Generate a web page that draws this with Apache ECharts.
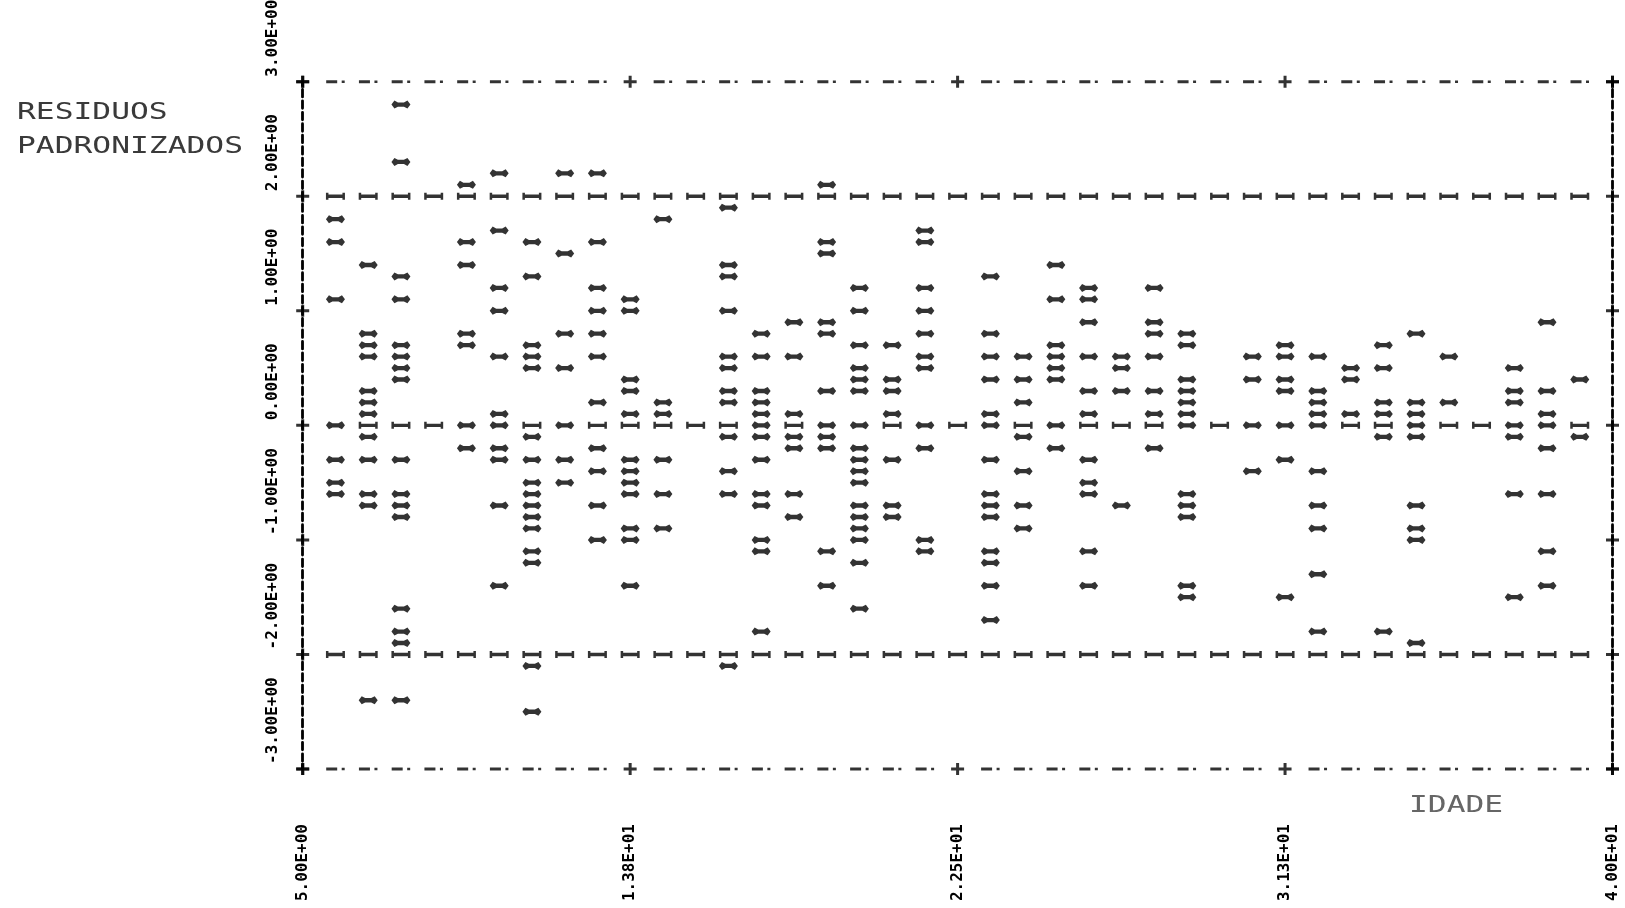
<!DOCTYPE html>
<html>
<head>
<meta charset="utf-8">
<script src="https://cdn.jsdelivr.net/npm/echarts@6/dist/echarts.min.js"></script>
<style>
html,body{margin:0;padding:0;background:#fff;}
#chart{width:1625px;height:908px;}
</style>
</head>
<body>
<div id="chart"></div>
<script>
// print columns of the age axis (IDADE)
const ageColumns = [5.875, 6.75, 7.625, 8.5, 9.375, 10.25, 11.125, 12, 12.875, 13.75,
  14.625, 15.5, 16.375, 17.25, 18.125, 19, 19.875, 20.75, 21.625, 22.5,
  23.375, 24.25, 25.125, 26, 26.875, 27.75, 28.625, 29.5, 30.375, 31.25,
  32.125, 33, 33.875, 34.75, 35.625, 36.5, 37.375, 38.25, 39.125];

// standardized residuals plotted in each column
const residuos = [
  [1.8, 1.6, 1.1, 0.0, -0.3, -0.5, -0.6],
  [1.4, 0.8, 0.7, 0.6, 0.3, 0.2, 0.1, -0.1, -0.3, -0.6, -0.7, -2.4],
  [2.8, 2.3, 1.3, 1.1, 0.7, 0.6, 0.5, 0.4, -0.3, -0.6, -0.7, -0.8, -1.6, -1.8, -1.9, -2.4],
  [],
  [2.1, 1.6, 1.4, 0.8, 0.7, 0.0, -0.2],
  [2.2, 1.7, 1.2, 1.0, 0.6, 0.1, 0.0, -0.2, -0.3, -0.7, -1.4],
  [1.6, 1.3, 0.7, 0.6, 0.5, -0.1, -0.3, -0.5, -0.6, -0.7, -0.8, -0.9, -1.1, -1.2, -2.1, -2.5],
  [2.2, 1.5, 0.8, 0.5, 0.0, -0.3, -0.5],
  [2.2, 1.6, 1.2, 1.0, 0.8, 0.6, 0.2, -0.2, -0.4, -0.7, -1.0],
  [1.1, 1.0, 0.4, 0.3, 0.1, -0.3, -0.4, -0.5, -0.6, -0.9, -1.0, -1.4],
  [1.8, 0.2, 0.1, -0.3, -0.6, -0.9],
  [],
  [1.9, 1.4, 1.3, 1.0, 0.6, 0.5, 0.3, 0.2, -0.1, -0.4, -0.6, -2.1],
  [0.8, 0.6, 0.3, 0.2, 0.1, 0.0, -0.1, -0.3, -0.6, -0.7, -1.0, -1.1, -1.8],
  [0.9, 0.6, 0.1, -0.1, -0.2, -0.6, -0.8],
  [2.1, 1.6, 1.5, 0.9, 0.8, 0.3, 0.0, -0.1, -0.2, -1.1, -1.4],
  [1.2, 1.0, 0.7, 0.5, 0.4, 0.3, 0.0, -0.2, -0.3, -0.4, -0.5, -0.7, -0.8, -0.9, -1.0, -1.2, -1.6],
  [0.7, 0.4, 0.3, 0.1, -0.3, -0.7, -0.8],
  [1.7, 1.6, 1.2, 1.0, 0.8, 0.6, 0.5, 0.0, -0.2, -1.0, -1.1],
  [],
  [1.3, 0.8, 0.6, 0.4, 0.1, 0.0, -0.3, -0.6, -0.7, -0.8, -1.1, -1.2, -1.4, -1.7],
  [0.6, 0.4, 0.2, -0.1, -0.4, -0.7, -0.9],
  [1.4, 1.1, 0.7, 0.6, 0.5, 0.4, 0.0, -0.2],
  [1.2, 1.1, 0.9, 0.6, 0.3, 0.1, -0.3, -0.5, -0.6, -1.1, -1.4],
  [0.6, 0.5, 0.3, -0.7],
  [1.2, 0.9, 0.8, 0.6, 0.3, 0.1, -0.2],
  [0.8, 0.7, 0.4, 0.3, 0.2, 0.1, 0.0, -0.6, -0.7, -0.8, -1.4, -1.5],
  [],
  [0.6, 0.4, 0.0, -0.4],
  [0.7, 0.6, 0.4, 0.3, 0.0, -0.3, -1.5],
  [0.6, 0.3, 0.2, 0.1, 0.0, -0.4, -0.7, -0.9, -1.3, -1.8],
  [0.5, 0.4, 0.1],
  [0.7, 0.5, 0.2, 0.1, -0.1, -1.8],
  [0.8, 0.2, 0.1, 0.0, -0.1, -0.7, -0.9, -1.0, -1.9],
  [0.6, 0.2],
  [],
  [0.5, 0.3, 0.2, 0.0, -0.1, -0.6, -1.5],
  [0.9, 0.3, 0.1, 0.0, -0.2, -0.6, -1.1, -1.4],
  [0.4, -0.1]
];

const refLevels = [2, 0, -2];
const xMin = 5, xMax = 40, yMin = -3, yMax = 3;
const xTickValues = [5, 13.75, 22.5, 31.25, 40];
const xTickLabels = ['5.00E+00', '1.38E+01', '2.25E+01', '3.13E+01', '4.00E+01'];
const yTickValues = [-3, -2, -1, 0, 1, 2, 3];
const yTickLabels = ['-3.00E+00', '-2.00E+00', '-1.00E+00', '0.00E+00', '1.00E+00', '2.00E+00', '3.00E+00'];

// glyph shapes (line-printer look)
const starGlyph = 'path://M0,4L3,0.3L6.5,2L12.5,2L16,0.3L19,4L16,7.7L12.5,6L6.5,6L3,7.7Z';
const iGlyph = 'path://M0,0L2.5,0L2.5,1.8L16.5,1.8L16.5,0L19,0L19,7L16.5,7L16.5,5.2L2.5,5.2L2.5,7L0,7Z';
const dashDotGlyph = 'path://M0,0L11,0L11,3L0,3Z M15.5,0.2L18.5,0.2L18.5,2.8L15.5,2.8Z';
const plusGlyph = 'path://M5,0L8,0L8,4.5L13,4.5L13,7.5L8,7.5L8,12L5,12L5,7.5L0,7.5L0,4.5L5,4.5Z';

const points = [];
ageColumns.forEach((x, i) => residuos[i].forEach(v => points.push([x, v])));

const refMarks = [];
ageColumns.forEach((x, i) => refLevels.forEach(l => {
  if (!residuos[i].includes(l)) refMarks.push([x, l]);
}));

const borderDashes = [];
ageColumns.forEach(x => {
  if (!xTickValues.includes(x)) { borderDashes.push([x, yMax]); borderDashes.push([x, yMin]); }
});

const plusMarks = [];
xTickValues.forEach(x => { plusMarks.push([x, yMax]); plusMarks.push([x, yMin]); });
yTickValues.forEach(v => { plusMarks.push([xMin, v]); plusMarks.push([xMax, v]); });

const chart = echarts.init(document.getElementById('chart'), null, {renderer: 'canvas'});
const dashLine = {color: '#000', width: 2.8, type: [7.5, 3.955], dashOffset: 3.75};

chart.setOption({
  animation: false,
  backgroundColor: '#ffffff',
  grid: {left: 302.7, right: 12.5, top: 81.7, bottom: 139, containLabel: false, outerBoundsMode: 'none'},
  xAxis: {
    type: 'value', min: xMin, max: xMax,
    axisLine: {show: false, onZero: false},
    axisTick: {show: false},
    splitLine: {show: false},
    axisLabel: {
      customValues: xTickValues,
      rotate: 90, align: 'right', verticalAlign: 'middle', margin: 55,
      fontFamily: 'DejaVu Sans Mono', fontSize: 16, fontWeight: 'bold', color: '#000',
      formatter: v => xTickLabels[xTickValues.indexOf(v)]
    }
  },
  yAxis: [{
    type: 'value', min: yMin, max: yMax, interval: 1,
    axisLine: {show: true, onZero: false, lineStyle: dashLine},
    axisTick: {show: false},
    splitLine: {show: false},
    axisLabel: {
      rotate: 90, align: 'left', verticalAlign: 'middle', margin: 30,
      padding: [0, 0, 0, 5],
      fontFamily: 'DejaVu Sans Mono', fontSize: 16, fontWeight: 'bold', color: '#000',
      formatter: v => yTickLabels[yTickValues.indexOf(v)]
    }
  }, {
    type: 'value', min: yMin, max: yMax, interval: 1, position: 'right',
    axisLine: {show: true, onZero: false, lineStyle: dashLine},
    axisTick: {show: false}, splitLine: {show: false}, axisLabel: {show: false}
  }],
  series: [
    {type: 'scatter', data: borderDashes, symbol: dashDotGlyph, symbolSize: [18.5, 3],
     itemStyle: {color: '#000'}, silent: true, z: 3},
    {type: 'scatter', data: plusMarks, symbol: plusGlyph, symbolSize: [13, 12],
     itemStyle: {color: '#000'}, silent: true, z: 4},
    {type: 'scatter', data: refMarks, symbol: iGlyph, symbolSize: [19, 7],
     itemStyle: {color: '#000'}, silent: true, z: 3},
    {type: 'scatter', data: points, symbol: starGlyph, symbolSize: [19, 8],
     itemStyle: {color: '#000'}, silent: true, z: 5}
  ],
  graphic: [
    {type: 'text', x: 17, y: 113.5, scaleX: 1.36,
     style: {text: 'RESIDUOS', font: '23px "DejaVu Sans Mono"', fill: '#3a3a3a', verticalAlign: 'middle'}},
    {type: 'text', x: 17, y: 147.5, scaleX: 1.36,
     style: {text: 'PADRONIZADOS', font: '23px "DejaVu Sans Mono"', fill: '#3a3a3a', verticalAlign: 'middle'}},
    {type: 'text', x: 1409, y: 806.5, scaleX: 1.36,
     style: {text: 'IDADE', font: '23px "DejaVu Sans Mono"', fill: '#666', verticalAlign: 'middle'}}
  ]
});
</script>
</body>
</html>
